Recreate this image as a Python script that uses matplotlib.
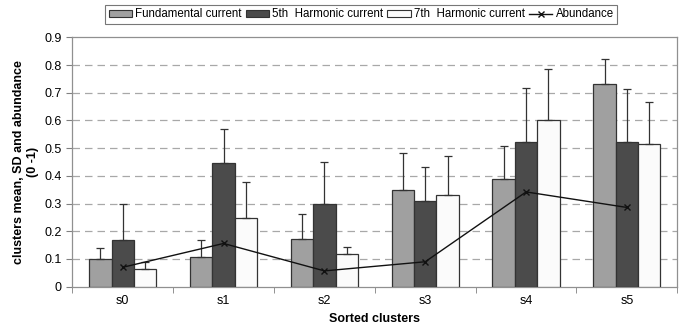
import numpy as np
import matplotlib
matplotlib.use("Agg")
import matplotlib.pyplot as plt
from matplotlib.patches import Patch
from matplotlib.lines import Line2D

plt.rcParams['font.family'] = ['Liberation Sans', 'DejaVu Sans']

clusters = ["s0", "s1", "s2", "s3", "s4", "s5"]
fundamental = [0.099, 0.106, 0.171, 0.349, 0.387, 0.730]
fundamental_sd = [0.041, 0.061, 0.092, 0.134, 0.122, 0.092]
harmonic5 = [0.167, 0.446, 0.300, 0.309, 0.522, 0.522]
harmonic5_sd = [0.130, 0.123, 0.149, 0.122, 0.194, 0.190]
harmonic7 = [0.064, 0.249, 0.117, 0.331, 0.603, 0.516]
harmonic7_sd = [0.024, 0.130, 0.026, 0.142, 0.183, 0.151]
abundance = [0.070, 0.156, 0.057, 0.090, 0.342, 0.286]

fig = plt.figure(figsize=(6.92, 3.29), dpi=100)
ax = fig.add_axes([0.1045, 0.1286, 0.8743, 0.758])

x = np.arange(len(clusters))
w = 0.222
series = [
    (fundamental, fundamental_sd, "#a0a0a0", -w),
    (harmonic5, harmonic5_sd, "#4b4b4b", 0.0),
    (harmonic7, harmonic7_sd, "#fbfbfb", w),
]
for vals, sd, col, off in series:
    ax.bar(x + off, vals, width=w, color=col, edgecolor="#333333",
           linewidth=0.9, zorder=3)
    ax.errorbar(x + off, vals, yerr=[np.zeros(len(sd)), sd], fmt="none",
                ecolor="#333333", elinewidth=0.9, capsize=3, capthick=0.9,
                zorder=4)

ax.plot(x, abundance, color="#111111", lw=1.0, marker="x", ms=5,
        mew=1.0, zorder=5)

ax.set_xlim(-0.5, 5.5)
ax.set_ylim(0, 0.9)
ax.set_yticks(np.arange(0, 0.91, 0.1))
ax.set_yticklabels(["0"] + [f"{v:.1f}" for v in np.arange(0.1, 0.91, 0.1)])
ax.set_xticks(x)
ax.set_xticklabels(clusters)
ax.set_xticks(np.arange(-0.5, 5.6, 1.0), minor=True)
ax.tick_params(axis="x", which="major", length=0, pad=6, labelsize=9)
ax.tick_params(axis="x", which="minor", length=4, color="#808080")
ax.tick_params(axis="y", length=4, color="#808080", labelsize=9)

for yv in np.arange(0.1, 0.85, 0.1):
    ax.axhline(yv, color="#a8a8a8", lw=0.9, ls=(0, (6, 4)), zorder=1)

for s in ax.spines.values():
    s.set_color("#909090")
    s.set_linewidth(0.9)

ax.set_xlabel("Sorted clusters", fontweight="bold", fontsize=9, labelpad=4)
ax.set_ylabel("clusters mean, SD and abundance\n(0 -1)", fontweight="bold",
              fontsize=9, labelpad=4)

handles = [
    Patch(facecolor="#a0a0a0", edgecolor="#333333", lw=0.8),
    Patch(facecolor="#4b4b4b", edgecolor="#333333", lw=0.8),
    Patch(facecolor="#fbfbfb", edgecolor="#333333", lw=0.8),
    Line2D([], [], color="#111111", lw=1.0, marker="x", ms=5),
]
labels = ["Fundamental current", "5th  Harmonic current",
          "7th  Harmonic current", "Abundance"]
leg = fig.legend(handles, labels, loc="upper center", ncol=4,
                 bbox_to_anchor=(0.522, 0.985), fontsize=8.3, frameon=True,
                 fancybox=False, edgecolor="#555555", handlelength=2.0,
                 handleheight=0.6, handletextpad=0.3, columnspacing=0.35,
                 borderpad=0.3, borderaxespad=0.0)
leg.get_frame().set_linewidth(0.8)

fig.savefig("out.png", dpi=100)
